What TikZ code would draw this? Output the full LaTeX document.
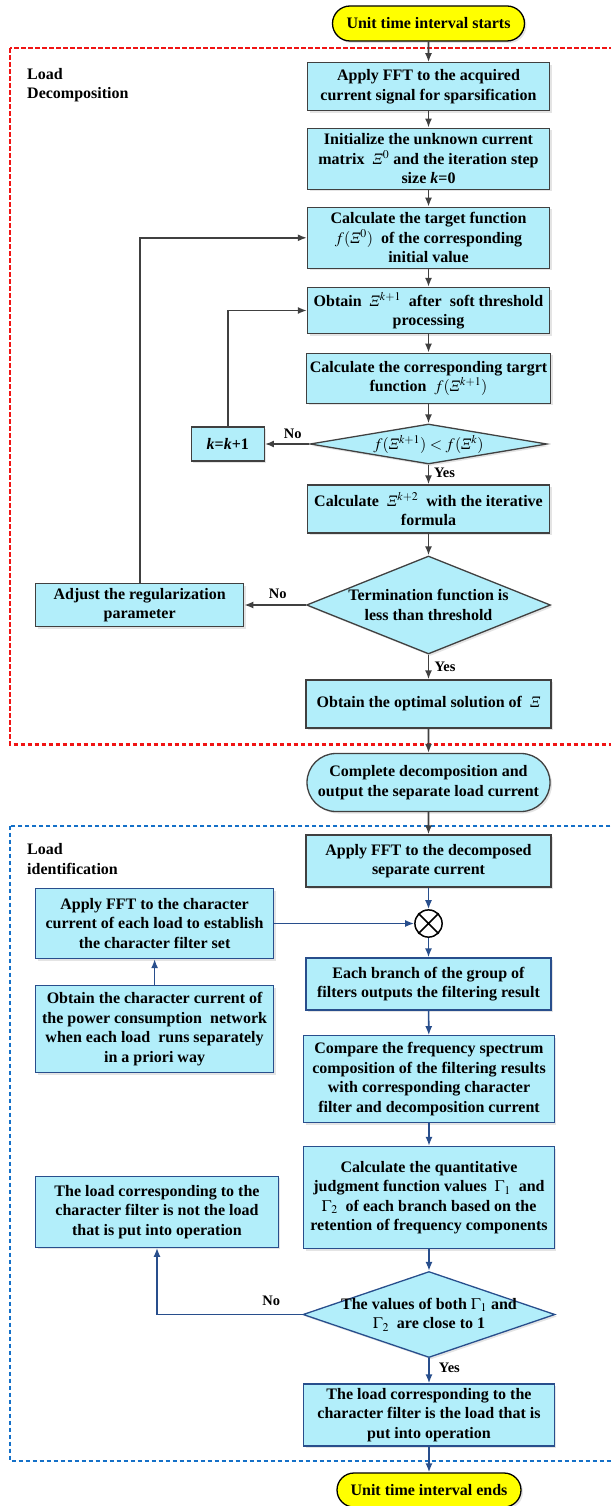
\documentclass[tikz,border=0pt]{standalone}
\usepackage{mathptmx}
\usepackage[no-math]{fontspec}
\setmainfont{Liberation Serif}
\usetikzlibrary{arrows.meta,shapes.geometric,shapes.misc,shadows}
\definecolor{boxfill}{RGB}{178,238,250}
\definecolor{linegray}{RGB}{64,64,64}
\definecolor{lineblue}{RGB}{40,78,140}
\definecolor{dashred}{RGB}{240,20,20}
\definecolor{dashblue}{RGB}{20,112,200}
\definecolor{termyellow}{RGB}{255,255,0}
\newcommand{\Xii}{\mbox{\normalfont\itshape Ξ}}
\newcommand{\boxfont}{\bfseries\fontsize{16}{19.5}\selectfont}
\newcommand{\lblfont}{\bfseries\fontsize{14.5}{17}\selectfont}

\tikzset{
  proc/.style={rectangle, draw=linegray, fill=boxfill, line width=1.3pt, align=center,
    font=\boxfont, inner xsep=3pt, inner ysep=2pt,
    drop shadow={shadow xshift=2pt, shadow yshift=-2pt, fill=black!30, opacity=.35}},
  procb/.style={proc, draw=lineblue},
  dec/.style={proc, diamond, aspect=2, inner xsep=-30pt, inner ysep=-8pt},
  decb/.style={dec, draw=lineblue},
  terminal/.style={proc, rounded rectangle},
  flow/.style={-{Latex[length=9pt,width=7pt]}, line width=1.6pt, draw=linegray},
  flowb/.style={flow, draw=lineblue},
  zoneframe/.style={line width=2.2pt, dash pattern=on 4.5pt off 2.5pt},
  lbl/.style={font=\lblfont, inner sep=0pt}
}

\begin{document}
\begin{tikzpicture}[x=1pt,y=-1pt]
\useasboundingbox (0,0) rectangle (610,1506);

% the two zones
\draw[zoneframe, dashred] (9.7,48.3) rectangle (620,744.5);
\draw[zoneframe, dashblue] (9.7,825.7) rectangle (620,1460.7);
\node (zonedec) at (27,85) [anchor=west, align=left, font=\boxfont, inner sep=0pt] {Load\\Decomposition};
\node (zoneid) at (27,859) [anchor=west, align=left, font=\boxfont, inner sep=0pt] {Load\\identification};

% load decomposition
\node (start) at (428.5,23.5) [terminal, draw=black, fill=termyellow, minimum width=198, minimum height=35] {Unit time interval starts};
\node (fft) at (428.5,86.8) [proc, minimum width=242, minimum height=48] {Apply FFT to the acquired\\current signal for sparsification};
\node (init) at (428.5,158.7) [proc, minimum width=242, minimum height=61] {Initialize the unknown current\\matrix \ $\Xii^{0}$ and the iteration step\\size \textit{k}=0};
\node (target) at (428.5,237.8) [proc, minimum width=242, minimum height=61] {Calculate the target function\\$f(\Xii^{0})$ \ of the corresponding\\initial value};
\node (soft) at (428.5,310.5) [proc, minimum width=242, minimum height=46] {Obtain \ $\Xii^{k+1}$ \ after \ soft threshold\\processing};
\node (targetk) at (428.5,378.3) [proc, minimum width=244, minimum height=50] {Calculate the corresponding targrt\\function \ $f(\Xii^{k+1})$};
\node (cmp) at (428.5,444) [dec, minimum width=237, minimum height=40] {$f(\Xii^{k+1}) < f(\Xii^{k})$};
\node (kinc) at (227.8,444) [proc, minimum width=73, minimum height=34] {\textit{k}=\textit{k}+1};
\node (iter) at (428.5,509) [proc, minimum width=242, minimum height=48] {Calculate \ $\Xii^{k+2}$ \ with the iterative\\formula};
\node (stop) at (428.5,605) [dec, minimum width=244, minimum height=98] {Termination function is\\less than threshold};
\node (adjust) at (139.7,605) [proc, minimum width=208, minimum height=43] {Adjust the regularization\\parameter};
\node (optimal) at (428.5,704) [proc, minimum width=245, minimum height=48] {Obtain the optimal solution of \ $\Xii$};
\node (complete) at (428.5,782.5) [terminal, minimum width=249, minimum height=58] {Complete decomposition and\\output the separate load current};

\node (no1) at (292.8,434.3) [lbl] {No};
\node (yes1) at (444.5,473) [lbl] {Yes};
\node (no2) at (277.8,594) [lbl] {No};
\node (yes2) at (445,667.3) [lbl] {Yes};

\foreach \a/\b in {start/fft, fft/init, init/target, target/soft, soft/targetk, targetk/cmp,
                   cmp/iter, iter/stop, stop/optimal, optimal/complete}
  \draw[flow] (\a) -- (\b);
\draw[flow] (cmp) -- (kinc);
\draw[flow] (kinc) |- (soft);
\draw[flow] (stop) -- (adjust);
\draw[flow] (adjust) |- (target);

% load identification
\node (fftdec) at (428.5,861) [proc, minimum width=245, minimum height=52] {Apply FFT to the decomposed\\separate current};
\node (mult) at (428.5,923.5) [circle, draw=black, fill=white, line width=1.5pt, minimum size=27.2, inner sep=0pt] {};
\draw[line width=1.5pt] (mult.45) -- (mult.225) (mult.135) -- (mult.315);
\node (fftchar) at (154.6,923.5) [procb, minimum width=238, minimum height=70] {Apply FFT to the character\\current of each load to establish\\the character filter set};
\node (branch) at (428.5,984) [procb, minimum width=245, minimum height=52] {Each branch of the group of\\filters outputs the filtering result};
\node (charcur) at (154.6,1029.3) [procb, minimum width=238, minimum height=87] {Obtain the character current of\\the power consumption \ network\\when each load \ runs separately\\in a priori way};
\node (compare) at (429,1079.3) [procb, minimum width=250.6, minimum height=87] {Compare the frequency spectrum\\composition of the filtering results\\with corresponding character\\filter and decomposition current};
\node (judge) at (429,1197.5) [procb, minimum width=250.6, minimum height=102] {Calculate the quantitative\\judgment function values \ $\Gamma_1$ \ and\\$\Gamma_2$ \ of each branch based on the\\retention of frequency components};
\node (notload) at (157,1211.7) [procb, minimum width=242.4, minimum height=71] {The load corresponding to the\\character filter is not the load\\that is put into operation};
\node (close) at (429,1314.5) [decb, minimum width=252, minimum height=86] {The values of both $\Gamma_1$ and\\$\Gamma_2$ \ are close to 1};
\node (isload) at (429,1415) [procb, minimum width=250.6, minimum height=62] {The load corresponding to the\\character filter is the load that is\\put into operation};
\node (finish) at (429,1490) [terminal, draw=black, fill=termyellow, minimum width=190, minimum height=34] {Unit time interval ends};

\node (no3) at (271.3,1300.7) [lbl] {No};
\node (yes3) at (449.4,1368.3) [lbl] {Yes};

\draw[flow] (complete) -- (fftdec);
\foreach \a/\b in {fftdec/mult, fftchar/mult, mult/branch, charcur/fftchar, branch/compare,
                   compare/judge, judge/close, close/isload, isload/finish}
  \draw[flowb] (\a) -- (\b);
\draw[flowb] (close) -| (notload);
\end{tikzpicture}
\end{document}
